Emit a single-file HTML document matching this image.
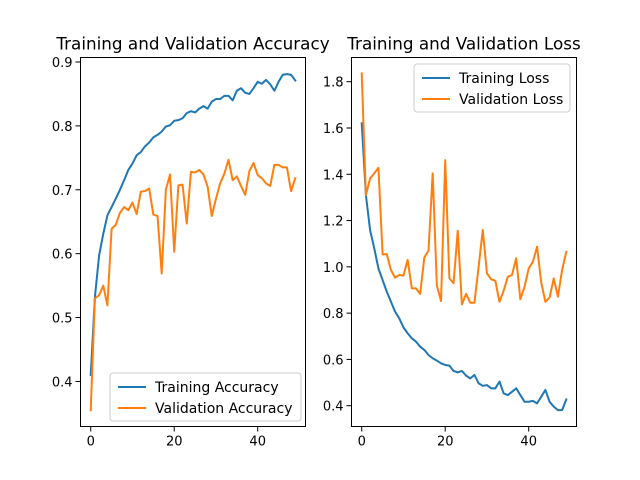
<!DOCTYPE html>
<html><head><meta charset="utf-8"><style>
body{margin:0;background:#fff}
svg{display:block;font-family:"DejaVu Sans","Liberation Sans",sans-serif}
</style></head><body>
<svg id="fig" width="640" height="480"></svg>
<script>
const epochs = Array.from({length:50},(_,i)=>i);
const trainAcc = [0.41,0.532,0.597,0.631,0.66,0.673,0.686,0.70,0.715,0.731,0.741,0.754,0.759,0.768,0.774,0.782,0.786,0.791,0.799,0.801,0.808,0.809,0.812,0.820,0.823,0.821,0.827,0.831,0.827,0.838,0.842,0.842,0.847,0.847,0.84,0.855,0.859,0.852,0.85,0.859,0.869,0.866,0.872,0.865,0.855,0.869,0.88,0.881,0.88,0.871];
const valAcc = [0.355,0.530,0.535,0.55,0.519,0.639,0.645,0.664,0.673,0.668,0.68,0.662,0.697,0.698,0.702,0.661,0.659,0.569,0.70,0.724,0.603,0.707,0.708,0.647,0.728,0.727,0.731,0.724,0.705,0.659,0.686,0.71,0.725,0.747,0.715,0.721,0.706,0.692,0.729,0.742,0.723,0.718,0.71,0.706,0.739,0.739,0.735,0.735,0.698,0.718];
const trainLoss = [1.62,1.31,1.159,1.08,0.993,0.943,0.893,0.849,0.806,0.777,0.738,0.713,0.691,0.677,0.655,0.641,0.619,0.605,0.595,0.583,0.576,0.573,0.55,0.544,0.55,0.53,0.518,0.533,0.497,0.486,0.489,0.475,0.475,0.504,0.453,0.446,0.46,0.475,0.446,0.417,0.417,0.421,0.41,0.439,0.468,0.417,0.396,0.381,0.381,0.427];
const valLoss = [1.836,1.31,1.382,1.404,1.428,1.054,1.055,0.986,0.953,0.965,0.962,1.03,0.907,0.907,0.883,1.041,1.07,1.404,0.919,0.852,1.461,0.95,0.929,1.156,0.838,0.883,0.845,0.845,1.0,1.159,0.972,0.946,0.94,0.849,0.897,0.957,0.965,1.037,0.86,0.914,0.993,1.022,1.087,0.932,0.849,0.868,0.95,0.871,0.986,1.065];
const xTicks = [0,20,40];
const accTicks = [0.4,0.5,0.6,0.7,0.8,0.9];
const lossTicks = [0.4,0.6,0.8,1.0,1.2,1.4,1.6,1.8];

const NS="http://www.w3.org/2000/svg";
const svg=document.getElementById('fig');
function mk(tag,attrs,parent){const e=document.createElementNS(NS,tag);for(const k in attrs)e.setAttribute(k,attrs[k]);(parent||svg).appendChild(e);return e;}

function panel(o){
  const {x0,x1,y0,y1,xmin,xmax,ymin,ymax}=o;
  const sx=v=>x0+(v-xmin)/(xmax-xmin)*(x1-x0);
  const sy=v=>y1-(v-ymin)/(ymax-ymin)*(y1-y0);
  const g=mk('g',{});
  
  
  const t=mk('text',{x:(x0+x1)/2,y:y0-8,'text-anchor':'middle','font-size':'16.8'},g);
  t.textContent=o.title;
  
  
  o.series.forEach((s,si)=>{
    const pts=s.data.map((v,i)=>sx(epochs[i]).toFixed(2)+','+sy(v).toFixed(2)).join(' ');
    const p=mk('polyline',{points:pts,fill:'none',stroke:s.color,'stroke-width':2,'stroke-linejoin':'round','stroke-linecap':'square'},g);
    
    
  });
  mk('rect',{x:x0,y:y0,width:x1-x0,height:y1-y0,fill:'none',stroke:'#000','stroke-width':1},g);
  xTicks.forEach(v=>{
    const x=sx(v);
    mk('line',{x1:x,x2:x,y1:y1,y2:y1+5,stroke:'#000','stroke-width':1},g);
    const l=mk('text',{x:x,y:y1+19,'text-anchor':'middle','font-size':'13'},g);
    l.textContent=v;
    
    
  });
  o.yTicks.forEach(v=>{
    const y=sy(v);
    mk('line',{x1:x0-5,x2:x0,y1:y,y2:y,stroke:'#000','stroke-width':1},g);
    const l=mk('text',{x:x0-8,y:y+5,'text-anchor':'end','font-size':'13'},g);
    l.textContent=v.toFixed(1);
    
    
  });
  const L=o.legend;
  const lg=mk('g',{},g);
  
  
  mk('rect',{x:L.x,y:L.y,width:L.w,height:48,rx:3,fill:'#fff','fill-opacity':0.8,stroke:'#ccc','stroke-width':1},lg);
  o.series.forEach((s,i)=>{
    const yy=L.y+14+i*21;
    mk('line',{x1:L.x+8,x2:L.x+36,y1:yy,y2:yy,stroke:s.color,'stroke-width':2},lg);
    const tx=mk('text',{x:L.x+45,y:yy+5,'font-size':'14'},lg);
    tx.textContent=s.label;
    
    
  });
}
panel({name:'accuracy-chart',title:'Training and Validation Accuracy',x0:80.5,x1:305.5,y0:57.5,y1:426.5,xmin:-2.45,xmax:51.45,ymin:0.4-(426.5-381.5)/638,ymax:0.9+(62-57.5)/638,yTicks:accTicks,
  series:[{id:'training-accuracy',label:'Training Accuracy',data:trainAcc,color:'#1f77b4'},{id:'validation-accuracy',label:'Validation Accuracy',data:valAcc,color:'#ff7f0e'}],
  legend:{x:110,y:373,w:191}});
panel({name:'loss-chart',title:'Training and Validation Loss',x0:351.5,x1:576.5,y0:57.5,y1:426.5,xmin:-2.45,xmax:51.45,ymin:0.4-(426.5-405.7)/231.4,ymax:1.8+(81.7-57.5)/231.4,yTicks:lossTicks,
  series:[{id:'training-loss',label:'Training Loss',data:trainLoss,color:'#1f77b4'},{id:'validation-loss',label:'Validation Loss',data:valLoss,color:'#ff7f0e'}],
  legend:{x:414,y:64,w:156}});
</script>
</body></html>
